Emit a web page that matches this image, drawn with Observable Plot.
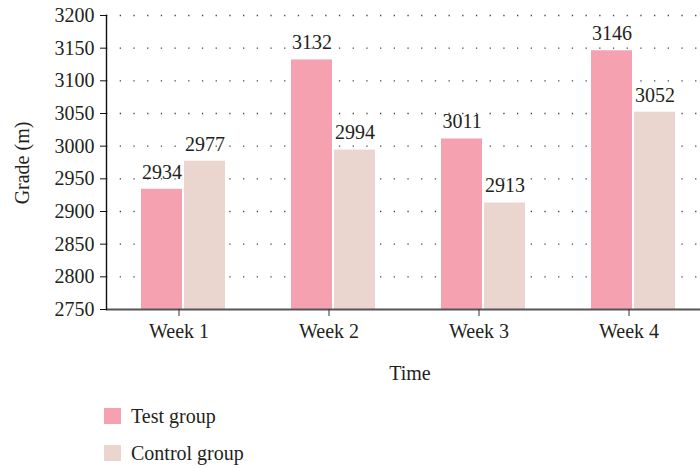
<!DOCTYPE html>
<html>
<head>
<meta charset="utf-8">
<script src="https://cdn.jsdelivr.net/npm/d3@7"></script>
<script src="https://cdn.jsdelivr.net/npm/@observablehq/plot@0.6"></script>
<style>
  body { margin: 0; background: #fff; }
  #wrap { position: relative; width: 700px; height: 468px; font-family: "Liberation Serif", serif; color: #231f20; }
  .lab { position: absolute; font-size: 20px; white-space: nowrap; }
  .legend { position: absolute; left: 104px; font-size: 20px; display: flex; align-items: center; }
  .sw { width: 17px; height: 16px; margin-right: 10px; }
</style>
</head>
<body>
<div id="wrap"></div>
<script>
const weeks = ["Week 1", "Week 2", "Week 3", "Week 4"];
const testValues = [2934, 3132, 3011, 3146];
const controlValues = [2977, 2994, 2913, 3052];
const yTicks = [2750, 2800, 2850, 2900, 2950, 3000, 3050, 3100, 3150, 3200];
const groups = ["Test group", "Control group"];
const colors = ["#f6a1b0", "#ead5cf"];

const yMin = yTicks[0], yMax = yTicks[yTicks.length - 1];
const testRows = weeks.map((w, i) => ({week: w, value: testValues[i]}));
const controlRows = weeks.map((w, i) => ({week: w, value: controlValues[i]}));

const chart = Plot.plot({
  width: 700,
  height: 390,
  marginLeft: 106,
  marginRight: 0,
  marginTop: 15,
  marginBottom: 81,
  style: {fontFamily: "Liberation Serif, serif", fontSize: "20px", color: "#231f20", background: "#fff"},
  x: {domain: weeks, range: [139.5, 675.7], paddingInner: 0.4428, paddingOuter: 0},
  y: {domain: [yMin, yMax]},
  marks: [
    Plot.gridY(yTicks.slice(1), {stroke: "#444", strokeOpacity: 1, strokeWidth: 1.3, strokeDasharray: "1.3 12.4"}),
    Plot.barY(testRows, {x: "week", y1: yMin, y2: "value", fill: colors[0], insetRight: 43}),
    Plot.barY(controlRows, {x: "week", y1: yMin, y2: "value", fill: colors[1], insetLeft: 43}),
    Plot.text(testRows, {x: "week", y: "value", text: d => String(d.value), dx: -21.5, dy: -17, fill: "#231f20", fontSize: 20}),
    Plot.text(controlRows, {x: "week", y: "value", text: d => String(d.value), dx: 21.5, dy: -17, fill: "#231f20", fontSize: 20}),
    Plot.ruleY([yMin], {stroke: "#555", strokeWidth: 1.8}),
    Plot.frame({anchor: "left", stroke: "#111", strokeWidth: 1.4}),
    Plot.axisY({ticks: yTicks, tickFormat: d => String(d), tickSize: 6, tickPadding: 6, label: null, stroke: "#111", fontSize: 20}),
    Plot.axisX({tickSize: 7, tickPadding: 7, label: null, dx: -4.5, stroke: "#333", fontSize: 20})
  ]
});

const wrap = document.getElementById("wrap");
wrap.appendChild(chart);

const yl = document.createElement("div");
yl.className = "lab";
yl.textContent = "Grade (m)";
yl.style.left = "22px"; yl.style.top = "163px";
yl.style.transform = "translate(-50%, -50%) rotate(-90deg)";
wrap.appendChild(yl);

const xl = document.createElement("div");
xl.className = "lab";
xl.textContent = "Time";
xl.style.left = "410px"; xl.style.top = "373px";
xl.style.transform = "translate(-50%, -50%)";
wrap.appendChild(xl);

groups.forEach((g, i) => {
  const item = document.createElement("div");
  item.className = "legend";
  item.style.top = (405 + i * 37) + "px";
  item.style.height = "22px";
  const sw = document.createElement("div");
  sw.className = "sw";
  sw.style.background = colors[i];
  const t = document.createElement("span");
  t.textContent = g;
  item.appendChild(sw);
  item.appendChild(t);
  wrap.appendChild(item);
});
</script>
</body>
</html>
